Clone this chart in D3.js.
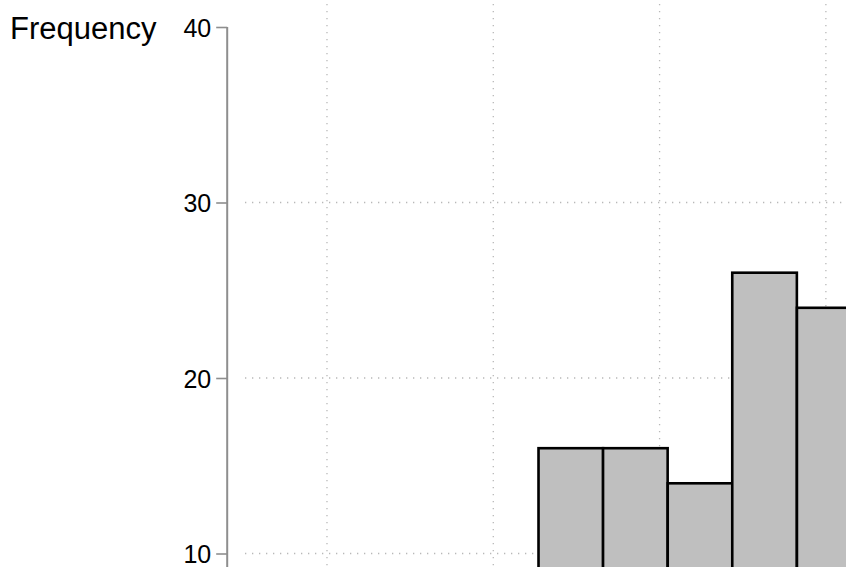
<!DOCTYPE html>
<html>
<head>
<meta charset="utf-8">
<script src="https://cdn.jsdelivr.net/npm/d3@7/dist/d3.min.js"></script>
<style>
  html, body { margin: 0; padding: 0; background: #fff; }
  svg { display: block; }
  text { font-family: Arial, "Liberation Sans", sans-serif; fill: #000; }
</style>
</head>
<body>
<svg id="chart" width="846" height="567"></svg>
<script>
// Histogram bins (left edges) and their frequencies
const binStarts = [22.72, 26.60, 30.49, 34.37, 38.26];
const binWidth = 3.885;
const frequencies = [16, 16, 14, 26, 24];

// Axis ticks
const yTicks = [10, 20, 30, 40];
const yGridTicks = [10, 20, 30];
const xGridTicks = [10, 20, 30, 40];

const svg = d3.select("#chart");
const W = 846, H = 567;

const x = d3.scaleLinear().domain([4, 50]).range([227.2, 227.2 + 46 * 16.63]);
const y = d3.scaleLinear().domain([0, 40]).range([729, 27]);

// Dotted grid
const grid = svg.append("g").attr("stroke", "#b8b8b8").attr("stroke-width", 1.3)
  .attr("stroke-dasharray", "1.3,5.7");
grid.selectAll("line.v").data(xGridTicks).join("line")
  .attr("class", "v")
  .attr("x1", d => x(d)).attr("x2", d => x(d))
  .attr("y1", 4).attr("y2", H);
grid.selectAll("line.h").data(yGridTicks).join("line")
  .attr("class", "h")
  .attr("x1", 245).attr("x2", W)
  .attr("y1", d => y(d)).attr("y2", d => y(d));

// Bars
svg.append("g").selectAll("rect").data(frequencies).join("rect")
  .attr("x", (d, i) => x(binStarts[i]))
  .attr("width", (d, i) => x(binStarts[i] + binWidth) - x(binStarts[i]))
  .attr("y", d => y(d))
  .attr("height", d => y(0) - y(d))
  .attr("fill", "#bfbfbf")
  .attr("stroke", "#000")
  .attr("stroke-width", 2.6);

// Y axis
const yAxis = d3.axisLeft(y).tickValues(yTicks).tickSize(11).tickPadding(5)
  .tickFormat(d3.format("d"));
const gy = svg.append("g").attr("transform", `translate(${x(4)},0)`).call(yAxis);
gy.select(".domain").remove();
gy.append("line")
  .attr("x1", 0).attr("x2", 0).attr("y1", y(40)).attr("y2", H)
  .attr("stroke", "#8e8e8e").attr("stroke-width", 2);
gy.selectAll(".tick line").attr("stroke", "#8e8e8e").attr("stroke-width", 1.6);
gy.selectAll(".tick text")
  .attr("font-size", 25)
  .attr("font-family", "Arial, 'Liberation Sans', sans-serif")
  .attr("fill", "#000")
  .attr("dy", "0.36em");

// Axis title
svg.append("text")
  .attr("x", 10).attr("y", 39)
  .attr("font-size", 31)
  .text("Frequency");
</script>
</body>
</html>
